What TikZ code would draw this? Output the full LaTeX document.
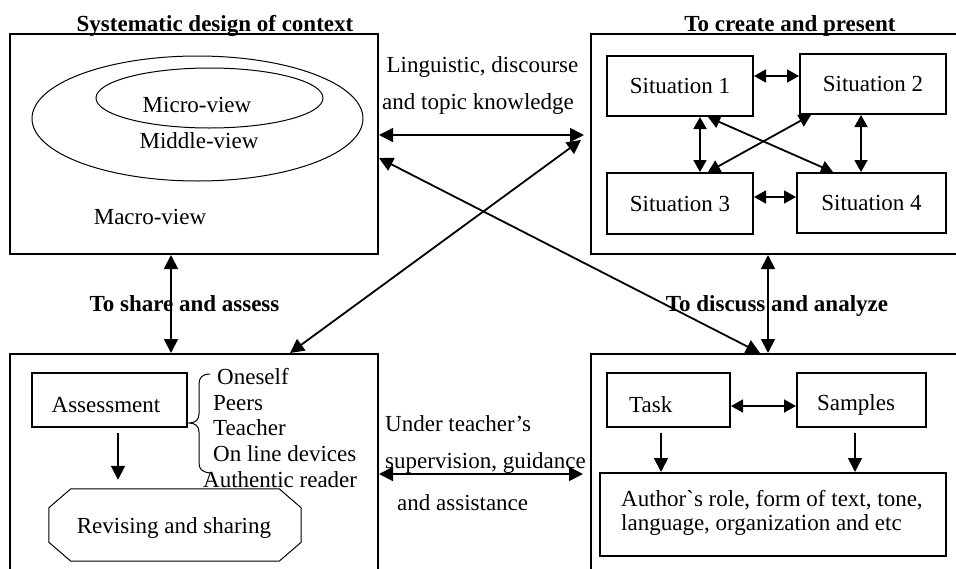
\documentclass[tikz,border=0pt]{standalone}
\usepackage{fontspec}
\setmainfont{Liberation Serif}
\usetikzlibrary{arrows.meta,calc,shapes.geometric}
\begin{document}
\begin{tikzpicture}[x=1pt,y=-1pt,
  every node/.style={font=\fontsize{23}{25}\selectfont},
  bigbox/.style={draw,line width=2pt,inner sep=0pt},
  smallbox/.style={draw,line width=2pt,inner sep=0pt},
  txt/.style={inner sep=0pt},
  ttl/.style={inner sep=0pt,font=\fontsize{23}{25}\selectfont\bfseries,anchor=base},
  ell/.style={draw,line width=1pt,ellipse,inner sep=0pt},
  arr/.style={line width=1.8pt,{Triangle[length=14pt,width=14pt]}-{Triangle[length=14pt,width=14pt]}},
  sarr/.style={line width=1.8pt,{Triangle[length=12pt,width=13pt]}-{Triangle[length=12pt,width=13pt]}},
  darr/.style={line width=1.8pt,-{Triangle[length=14pt,width=14pt]}}]
\useasboundingbox (0,0) rectangle (956,568);
\clip (0,0) rectangle (956,568);
% big boxes
\node[bigbox,minimum width=368pt,minimum height=220pt] (A) at (194,144) {};
\node[bigbox,minimum width=371pt,minimum height=220pt] (B) at (776.5,144) {};
\node[bigbox,minimum width=368pt,minimum height=226pt] (C) at (194,467) {};
\node[bigbox,minimum width=371pt,minimum height=226pt] (D) at (776.5,467) {};
% titles
\node[ttl] (tA) at (215,31) {Systematic design of context};
\node[ttl] (tB) at (790,31) {To create and present};
\node[ttl] (tC) at (184.5,311) {To share and assess};
\node[ttl] (tD) at (777,311) {To discuss and analyze};
% box A content
\node[ell,minimum width=331pt,minimum height=125pt] (outer) at (197.5,118.5) {};
\node[ell,minimum width=227pt,minimum height=60pt] (inner) at (209.5,98) {};
\node[txt] (micro) at (197,105) {Micro-view};
\node[txt] (middle) at (199,141) {Middle-view};
\node[txt] (macro) at (150,217) {Macro-view};
% box B content
\node[smallbox,minimum width=146pt,minimum height=60pt] (s1) at (680,86) {Situation 1};
\node[smallbox,minimum width=146pt,minimum height=60pt] (s2) at (873,84) {Situation 2};
\node[smallbox,minimum width=146pt,minimum height=61pt] (s3) at (680,203.5) {Situation 3};
\node[smallbox,minimum width=149pt,minimum height=60pt] (s4) at (871.5,203) {Situation 4};
\draw[sarr] ([yshift=10pt]s1.east) -- ([yshift=10pt]s1.east -| s2.west);
\draw[sarr] ([yshift=6.5pt]s3.east) -- ([yshift=6.5pt]s3.east -| s4.west);
\draw[sarr] ([xshift=20pt]s1.south) -- ([xshift=20pt]s3.north);
\draw[sarr] ([xshift=-12pt]s2.south) -- ([xshift=-12pt]s2.south |- s4.north);
\draw[sarr] ([xshift=28pt]s1.south) -- ([xshift=-38.5pt]s4.north);
\draw[sarr] ([xshift=28pt]s3.north) -- ([xshift=-62pt]s2.south);
% box C content
\node[smallbox,minimum width=155pt,minimum height=54pt] (assess) at (109.5,400) {};
\node[txt] (assesst) at (106,405) {Assessment};
\draw[line width=1pt] (210,374) .. controls (202,374) and (199,378) .. (199,384) -- (199,414)
  .. controls (199,420) and (195,423) .. (189,423)
  .. controls (195,423) and (199,426) .. (199,432) -- (199,463)
  .. controls (199,469) and (202,472) .. (210,473);
\node[txt,anchor=west] (l1) at (217,377) {Oneself};
\node[txt,anchor=west] (l2) at (213,403) {Peers};
\node[txt,anchor=west] (l3) at (213,428) {Teacher};
\node[txt,anchor=west] (l4) at (213,454) {On line devices};
\node[txt,anchor=west] (l5) at (203,480) {Authentic reader};
\node[txt,minimum width=252pt,minimum height=72pt] (rev) at (175,525) {};
\draw[line width=1pt] ([xshift=22pt]rev.north west) -- ([xshift=-22pt]rev.north east)
  -- ([yshift=-19pt]rev.north east) -- ([yshift=19pt]rev.south east)
  -- ([xshift=-22pt]rev.south east) -- ([xshift=22pt]rev.south west)
  -- ([yshift=19pt]rev.south west) -- ([yshift=-19pt]rev.north west) -- cycle;
\node[txt] (revt) at (174,528) {Revising and sharing};
\draw[darr,shorten <=5pt,shorten >=9pt] ([xshift=8.5pt]assess.south) -- ([xshift=8.5pt]assess.south |- rev.north);
% box D content
\node[smallbox,minimum width=123pt,minimum height=54pt] (task) at (668.5,400) {};
\node[txt,anchor=west] (taskt) at (629,405) {Task};
\node[smallbox,minimum width=129pt,minimum height=54pt] (samples) at (861.5,400) {};
\node[txt] (samplest) at (856,405) {Samples};
\node[smallbox,minimum width=346pt,minimum height=83pt] (author) at (773,514.5) {};
\node[txt,anchor=north west,align=left,font=\fontsize{23}{24}\selectfont] (authort) at (621,490)
  {Authorˋs role, form of text, tone,\\language, organization and etc};
\draw[sarr] ([yshift=-6pt]task.east) -- ([yshift=-6pt]task.east -| samples.west);
\draw[darr,shorten <=5pt] ([xshift=-7.5pt]task.south) -- ([xshift=-7.5pt]task.south |- author.north);
\draw[darr,shorten <=5pt] ([xshift=-6.5pt]samples.south) -- ([xshift=-6.5pt]samples.south |- author.north);
% middle labels
\node[txt] (ling1) at (482.5,67) {Linguistic, discourse};
\node[txt] (ling2) at (478,104) {and topic knowledge};
\node[txt,anchor=west] (u1) at (385,424) {Under teacher’s};
\node[txt,anchor=west] (u2) at (385,463) {supervision, guidance};
\node[txt,anchor=west] (u3) at (397,503) {and assistance};
% connectors between big boxes
\draw[arr,shorten >=6pt] ([yshift=9pt]A.east) -- ([yshift=9pt]A.east -| B.west);
\draw[arr] ([yshift=-14pt]A.east) -- ([xshift=-16.5pt]D.north);
\draw[arr] ([xshift=96pt]C.north) -- ([xshift=-9pt,yshift=4pt]B.west);
\draw[arr] ([xshift=-23pt]A.south) -- ([xshift=-23pt]C.north);
\draw[arr] ([xshift=-8.5pt]B.south) -- ([xshift=-8.5pt]D.north);
\draw[arr,shorten >=7pt] ([yshift=-7pt]C.east) -- ([yshift=-7pt]C.east -| D.west);
\end{tikzpicture}
\end{document}
